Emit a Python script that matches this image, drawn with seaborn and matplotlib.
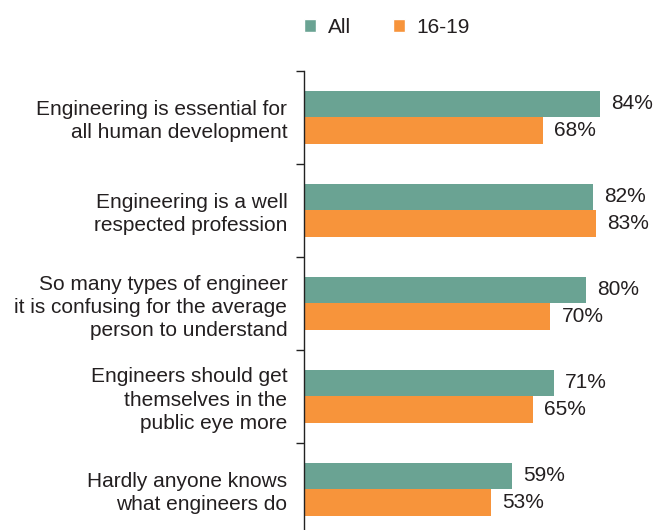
import matplotlib
matplotlib.use("Agg")
import matplotlib.pyplot as plt
import seaborn as sns
import pandas as pd
import numpy as np
from matplotlib.patches import Patch

categories = [
    "Engineering is essential for\nall human development",
    "Engineering is a well\nrespected profession",
    "So many types of engineer\nit is confusing for the average\nperson to understand",
    "Engineers should get\nthemselves in the\npublic eye more",
    "Hardly anyone knows\nwhat engineers do",
]
series = ["All", "16-19"]
all_values = [84, 82, 80, 71, 59]
young_values = [68, 83, 70, 65, 53]
colors = ["#6aa393", "#f7943b"]

sns.set_theme(style="white")
plt.rcParams["font.family"] = ["Liberation Sans", "DejaVu Sans"]
text_color = "#231f20"
fs = 15.0

df = pd.DataFrame({
    "category": categories * 2,
    "group": [series[0]] * len(categories) + [series[1]] * len(categories),
    "value": all_values + young_values,
})

fig = plt.figure(figsize=(6.53, 5.30), dpi=100)
ax = fig.add_axes([304 / 653, -0.0104, 352 / 653, 0.877])

sns.barplot(data=df, y="category", x="value", hue="group", order=categories,
            hue_order=series, palette=colors, width=0.57, orient="h",
            saturation=1, legend=False, linewidth=0, ax=ax)

for cont in ax.containers:
    ax.bar_label(cont, labels=[f"{v:.0f}%" for v in cont.datavalues],
                 padding=8, fontsize=fs, color=text_color)

ax.set_xlim(0, 100)
ax.set_ylim(len(categories) - 0.5, -0.5)
ax.set_xlabel("")
ax.set_ylabel("")
ax.set_xticks([])
for s in ["top", "right", "bottom"]:
    ax.spines[s].set_visible(False)
ax.spines["left"].set_color("#222222")
ax.spines["left"].set_linewidth(1.0)

ax.set_yticks(range(len(categories)))
ax.set_yticklabels(categories, fontsize=fs, color=text_color, linespacing=1.28)
ax.tick_params(axis="y", which="major", length=0, pad=12)
ax.set_yticks(np.arange(-0.5, len(categories), 1.0), minor=True)
ax.tick_params(axis="y", which="minor", length=6, width=1.0, color="#222222", left=True)

handles = [Patch(facecolor=c, label=s) for c, s in zip(colors, series)]
fig.legend(handles=handles, loc="center left", bbox_to_anchor=(285 / 653, 1 - 27 / 530),
           ncol=2, frameon=False, fontsize=fs, handlelength=0.6, handleheight=0.6,
           columnspacing=2.0, handletextpad=0.55, labelcolor=text_color)

fig.savefig("out.png", dpi=100)
